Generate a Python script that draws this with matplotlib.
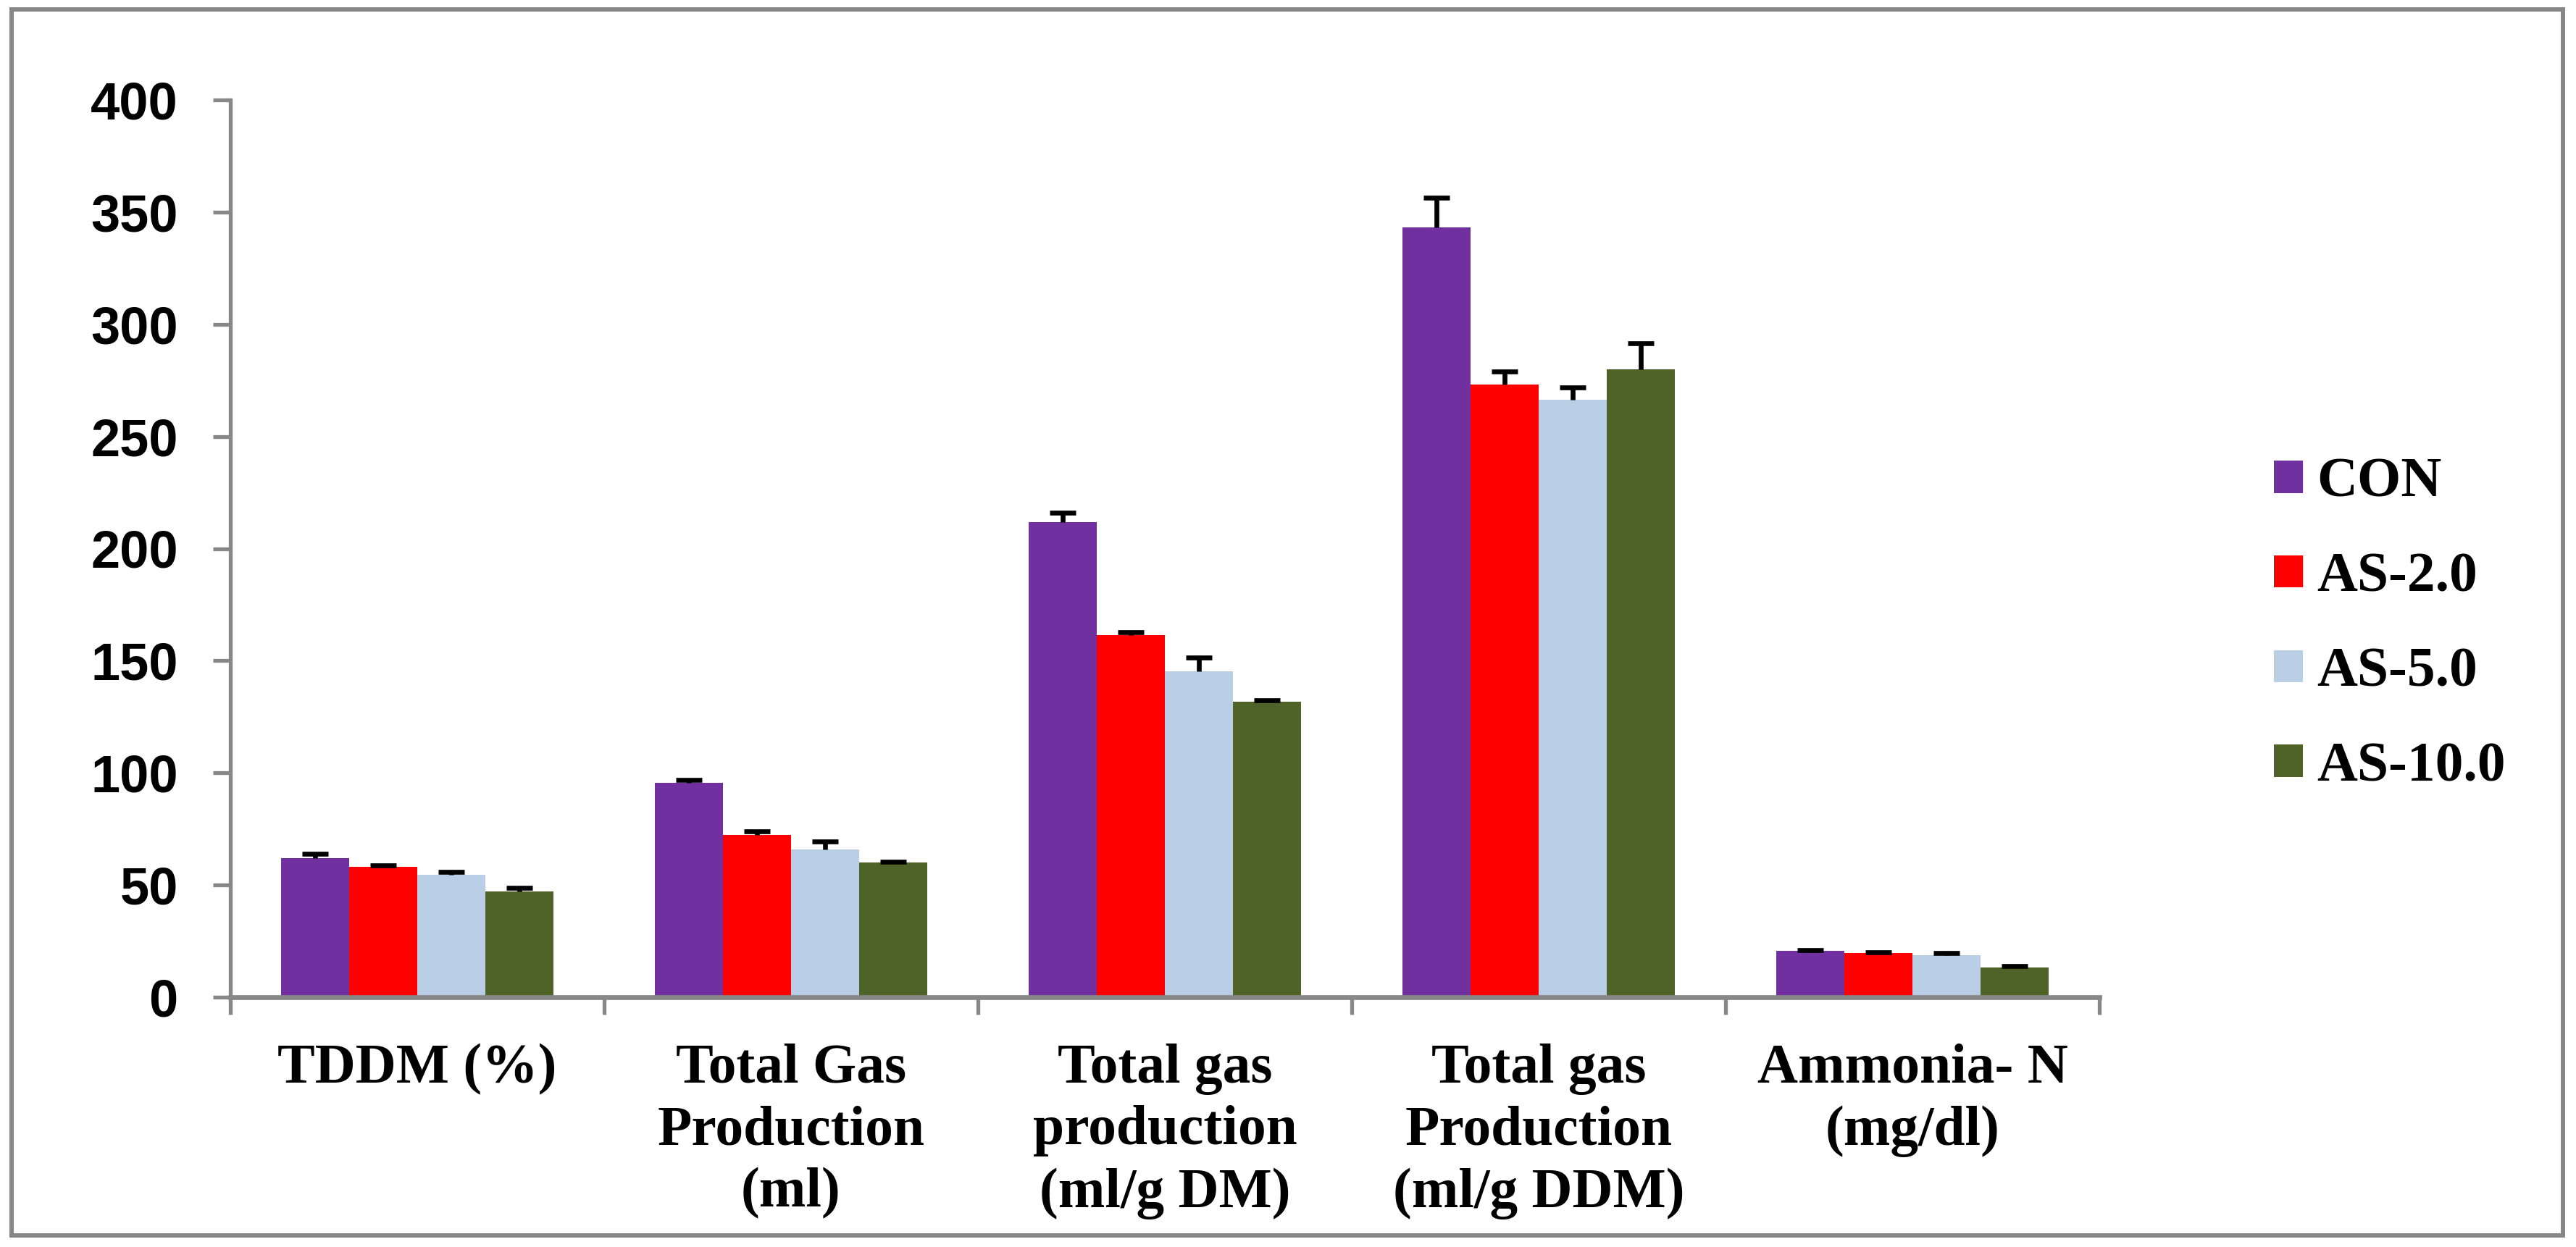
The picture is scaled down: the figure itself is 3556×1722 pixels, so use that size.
import matplotlib
matplotlib.use("Agg")
import matplotlib.pyplot as plt
from matplotlib.patches import Rectangle
import numpy as np

categories = ["TDDM (%)", "Total Gas\nProduction\n(ml)", "Total gas\nproduction\n(ml/g DM)",
              "Total gas\nProduction\n(ml/g DDM)", "Ammonia- N\n(mg/dl)"]
series_names = ["CON", "AS-2.0", "AS-5.0", "AS-10.0"]
con = [62.0, 95.5, 211.9, 343.2, 20.6]
as2 = [58.1, 72.3, 161.3, 273.2, 19.7]
as5 = [54.5, 65.8, 145.2, 266.4, 18.7]
as10 = [47.1, 60.0, 131.6, 280.0, 13.2]
con_err = [1.8, 1.5, 4.1, 13.2, 0.3]
as2_err = [0.5, 1.5, 1.5, 5.8, 0.2]
as5_err = [1.2, 3.5, 6.3, 5.5, 0.9]
as10_err = [1.5, 0.5, 0.9, 11.4, 0.6]
yticks = [0, 50, 100, 150, 200, 250, 300, 350, 400]

values = [con, as2, as5, as10]
errors = [con_err, as2_err, as5_err, as10_err]
colors = ["#7030A0", "#FF0000", "#B9CDE5", "#4F6228"]
gray = "#878787"

W, H = 3556, 1722
fig = plt.figure(figsize=(W / 100, H / 100), dpi=100)
ax = fig.add_axes([318 / W, 1 - 1377 / H, (2898 - 318) / W, (1377 - 138) / H])

x = np.arange(len(categories))
bw = 0.1825
for i, (vals, errs, c, name) in enumerate(zip(values, errors, colors, series_names)):
    pos = x + (i - 1.5) * bw
    ax.bar(pos, vals, width=bw, color=c, label=name, zorder=2, linewidth=0)
    _, caps, _ = ax.errorbar(pos, vals, yerr=[np.zeros(len(vals)), errs], fmt="none",
                             ecolor="black", elinewidth=4.8, capsize=13, capthick=4.8, zorder=3)
    # keep only the upper caps
    for cl in caps:
        if np.allclose(np.asarray(cl.get_ydata(), dtype=float), np.asarray(vals, dtype=float)):
            cl.set_visible(False)

ax.set_xlim(-0.5, len(categories) - 0.5)
ax.set_ylim(0, 400)
ax.set_yticks(yticks)
ax.set_yticklabels([str(t) for t in yticks], fontfamily="Liberation Sans", fontweight="bold",
                   fontsize=52)
ax.set_xticks(x)
ax.set_xticklabels(categories, fontfamily="Liberation Serif", fontweight="bold", fontsize=55.8,
                   linespacing=1.27, va="top", ha="center")
ax.set_xticks(np.arange(-0.5, len(categories), 1.0), minor=True)
ax.tick_params(axis="x", which="major", length=0, pad=46)
ax.tick_params(axis="x", which="minor", length=17, width=3.8, color=gray, direction="out")
ax.tick_params(axis="y", which="major", length=17, width=3.8, color=gray, direction="out", pad=35)

for s in ["top", "right"]:
    ax.spines[s].set_visible(False)
ax.spines["left"].set_color(gray)
ax.spines["left"].set_linewidth(3.8)
ax.spines["bottom"].set_color(gray)
ax.spines["bottom"].set_linewidth(4.8)
ax.spines["bottom"].set_zorder(4)

leg = fig.legend(loc="upper left", bbox_to_anchor=(3139 / W, 1 - 632 / H), frameon=False,
                 borderpad=0, borderaxespad=0, handlelength=0.516, handleheight=0.5,
                 handletextpad=0.25, labelspacing=0.77,
                 prop={"family": "Liberation Serif", "weight": "bold", "size": 55.8})

fig.patches.append(Rectangle((15.5 / W, 1 - 1706 / H), (3538 - 15.5) / W, (1706 - 12.5) / H,
                             transform=fig.transFigure, fill=False, edgecolor=gray,
                             linewidth=4.3, zorder=0))

fig.savefig("out.png", dpi=100, facecolor="white")
